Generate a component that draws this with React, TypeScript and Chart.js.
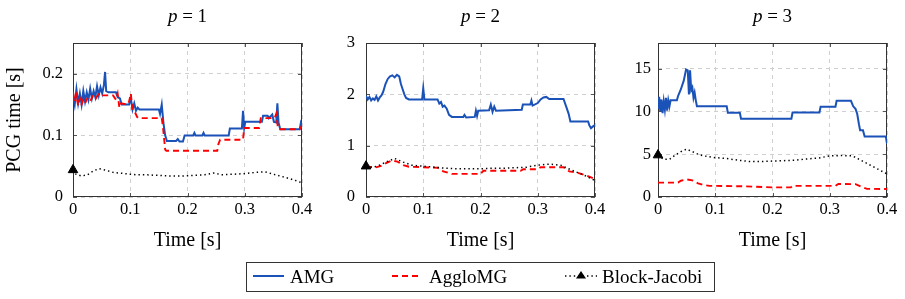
import { useEffect, useRef } from 'react';
import { Chart, registerables } from 'chart.js';

Chart.register(...registerables);

const FONT = '"Liberation Serif", "Times New Roman", serif';
const BLUE = '#1a52b8';
const RED = '#ff0000';
const BLACK = '#000000';

// Shared time axis
const xTicks = [0, 0.1, 0.2, 0.3, 0.4];
const xTickLabels = ['0', '0.1', '0.2', '0.3', '0.4'];

// Panel headings (polynomial degree)
const degrees = ['1', '2', '3'];

// y axes per panel
const yTicksP1 = [0, 0.1, 0.2];
const yTickLabelsP1 = ['0', '0.1', '0.2'];
const yTicksP2 = [0, 1, 2, 3];
const yTickLabelsP2 = ['0', '1', '2', '3'];
const yTicksP3 = [0, 5, 10, 15];
const yTickLabelsP3 = ['0', '5', '10', '15'];
const yMax = [0.25, 3, 18];

// p = 1
const amgP1Time = [0, 0.003, 0.006, 0.009, 0.012, 0.015, 0.018, 0.021, 0.024, 0.027, 0.03, 0.033, 0.036, 0.039, 0.042, 0.045, 0.048, 0.051, 0.054, 0.056, 0.058, 0.062, 0.075, 0.078, 0.082, 0.085, 0.098, 0.101, 0.104, 0.107, 0.11, 0.113, 0.116, 0.15, 0.152, 0.155, 0.158, 0.161, 0.164, 0.18, 0.183, 0.186, 0.192, 0.195, 0.21, 0.212, 0.214, 0.226, 0.228, 0.23, 0.272, 0.274, 0.295, 0.297, 0.299, 0.301, 0.33, 0.332, 0.34, 0.342, 0.348, 0.351, 0.355, 0.357, 0.359, 0.362, 0.396, 0.398, 0.4];
const amgP1Val = [0.165, 0.15, 0.175, 0.152, 0.168, 0.15, 0.172, 0.155, 0.17, 0.158, 0.176, 0.16, 0.172, 0.162, 0.18, 0.165, 0.178, 0.168, 0.182, 0.203, 0.172, 0.17, 0.17, 0.162, 0.16, 0.15, 0.15, 0.16, 0.142, 0.152, 0.14, 0.145, 0.142, 0.142, 0.135, 0.15, 0.12, 0.1, 0.091, 0.091, 0.094, 0.09, 0.09, 0.1, 0.1, 0.104, 0.1, 0.1, 0.104, 0.1, 0.1, 0.111, 0.111, 0.14, 0.112, 0.122, 0.122, 0.132, 0.132, 0.128, 0.134, 0.122, 0.121, 0.152, 0.121, 0.11, 0.11, 0.12, 0.115];
const aggloP1Time = [0, 0.003, 0.006, 0.009, 0.012, 0.015, 0.018, 0.021, 0.025, 0.03, 0.035, 0.04, 0.045, 0.05, 0.07, 0.075, 0.078, 0.081, 0.084, 0.095, 0.098, 0.101, 0.104, 0.108, 0.112, 0.114, 0.155, 0.157, 0.161, 0.163, 0.252, 0.254, 0.257, 0.297, 0.299, 0.325, 0.328, 0.352, 0.355, 0.358, 0.362, 0.396, 0.4];
const aggloP1Val = [0.17, 0.155, 0.165, 0.148, 0.16, 0.15, 0.158, 0.152, 0.16, 0.155, 0.165, 0.16, 0.168, 0.165, 0.165, 0.158, 0.168, 0.145, 0.152, 0.15, 0.155, 0.168, 0.14, 0.138, 0.13, 0.128, 0.128, 0.115, 0.077, 0.075, 0.075, 0.086, 0.093, 0.093, 0.112, 0.112, 0.128, 0.128, 0.135, 0.112, 0.11, 0.11, 0.116];
const bjP1Time = [0, 0.005, 0.015, 0.025, 0.035, 0.045, 0.055, 0.07, 0.09, 0.11, 0.13, 0.15, 0.17, 0.19, 0.21, 0.23, 0.245, 0.26, 0.28, 0.3, 0.32, 0.335, 0.35, 0.37, 0.385, 0.4];
const bjP1Val = [0.044, 0.037, 0.034, 0.036, 0.042, 0.046, 0.044, 0.04, 0.038, 0.036, 0.036, 0.035, 0.034, 0.034, 0.035, 0.036, 0.039, 0.036, 0.037, 0.038, 0.04, 0.041, 0.037, 0.032, 0.028, 0.023];

// p = 2
const amgP2Time = [0, 0.003, 0.006, 0.009, 0.012, 0.015, 0.018, 0.021, 0.024, 0.027, 0.03, 0.034, 0.038, 0.042, 0.046, 0.05, 0.054, 0.058, 0.061, 0.064, 0.067, 0.07, 0.075, 0.098, 0.1, 0.102, 0.125, 0.128, 0.131, 0.134, 0.137, 0.141, 0.145, 0.15, 0.17, 0.172, 0.175, 0.19, 0.192, 0.194, 0.196, 0.215, 0.218, 0.221, 0.224, 0.227, 0.272, 0.274, 0.287, 0.289, 0.291, 0.3, 0.305, 0.31, 0.315, 0.32, 0.345, 0.35, 0.354, 0.357, 0.388, 0.39, 0.393, 0.397, 0.4];
const amgP2Val = [1.97, 1.9, 1.95, 1.88, 1.92, 1.89, 1.96, 1.88, 1.94, 1.98, 2.05, 2.2, 2.3, 2.35, 2.37, 2.33, 2.38, 2.35, 2.2, 2.1, 2.0, 1.93, 1.9, 1.9, 2.12, 1.9, 1.9, 1.82, 1.85, 1.76, 1.78, 1.72, 1.6, 1.56, 1.56, 1.6, 1.55, 1.56, 1.68, 1.58, 1.68, 1.69, 1.8, 1.66, 1.76, 1.68, 1.7, 1.8, 1.8, 1.88, 1.78, 1.83, 1.9, 1.94, 1.95, 1.91, 1.91, 1.75, 1.62, 1.47, 1.47, 1.4, 1.34, 1.38, 1.4];
const aggloP2Time = [0, 0.015, 0.025, 0.035, 0.045, 0.055, 0.065, 0.075, 0.1, 0.125, 0.135, 0.15, 0.2, 0.205, 0.27, 0.275, 0.3, 0.305, 0.345, 0.355, 0.37, 0.385, 0.4];
const aggloP2Val = [0.6, 0.57, 0.6, 0.66, 0.71, 0.69, 0.62, 0.59, 0.58, 0.57, 0.5, 0.45, 0.45, 0.51, 0.51, 0.54, 0.54, 0.58, 0.58, 0.5, 0.47, 0.42, 0.35];
const bjP2Time = [0, 0.01, 0.02, 0.035, 0.05, 0.065, 0.08, 0.1, 0.12, 0.14, 0.16, 0.18, 0.2, 0.22, 0.24, 0.26, 0.28, 0.3, 0.32, 0.34, 0.36, 0.38, 0.4];
const bjP2Val = [0.6, 0.58, 0.6, 0.68, 0.75, 0.68, 0.62, 0.6, 0.58, 0.56, 0.55, 0.55, 0.55, 0.56, 0.56, 0.57, 0.58, 0.62, 0.64, 0.62, 0.52, 0.43, 0.32];

// p = 3
const amgP3Time = [0, 0.002, 0.004, 0.006, 0.008, 0.01, 0.012, 0.014, 0.016, 0.018, 0.02, 0.022, 0.033, 0.035, 0.04, 0.045, 0.049, 0.052, 0.054, 0.056, 0.058, 0.06, 0.062, 0.064, 0.066, 0.068, 0.12, 0.122, 0.143, 0.145, 0.233, 0.235, 0.282, 0.284, 0.31, 0.312, 0.337, 0.341, 0.345, 0.348, 0.351, 0.353, 0.358, 0.361, 0.398, 0.4];
const amgP3Val = [10.3, 11.7, 10.0, 11.4, 9.8, 11.2, 10.2, 11.6, 10.1, 11.3, 10.6, 11.3, 11.3, 11.8, 12.6, 13.6, 14.9, 14.8, 12.0, 14.8, 12.5, 12.8, 11.6, 12.2, 11.3, 10.6, 10.6, 9.85, 9.85, 9.15, 9.15, 9.88, 9.88, 10.55, 10.55, 11.25, 11.25, 10.6, 10.3, 9.7, 8.5, 7.8, 7.8, 7.06, 7.06, 6.2];
const aggloP3Time = [0, 0.035, 0.04, 0.05, 0.06, 0.07, 0.08, 0.09, 0.1, 0.15, 0.2, 0.232, 0.235, 0.31, 0.315, 0.345, 0.355, 0.365, 0.4];
const aggloP3Val = [1.68, 1.68, 1.9, 2.05, 1.95, 1.6, 1.4, 1.3, 1.3, 1.25, 1.12, 1.12, 1.3, 1.3, 1.52, 1.5, 1.2, 0.95, 0.94];
const bjP3Time = [0, 0.01, 0.02, 0.03, 0.04, 0.05, 0.06, 0.07, 0.08, 0.1, 0.12, 0.14, 0.16, 0.18, 0.2, 0.22, 0.24, 0.26, 0.28, 0.3, 0.32, 0.34, 0.36, 0.38, 0.4];
const bjP3Val = [4.9, 4.4, 4.4, 4.9, 5.3, 5.6, 5.3, 5.0, 4.8, 4.6, 4.5, 4.3, 4.15, 4.15, 4.2, 4.25, 4.3, 4.45, 4.55, 4.8, 4.85, 4.8, 4.1, 3.4, 2.7];

const seriesNames = ['AMG', 'AggloMG', 'Block-Jacobi'];

const pts = (t: number[], v: number[]) => t.map((x, i) => ({ x, y: v[i] }));

const panels = [
  {
    amg: pts(amgP1Time, amgP1Val), agglo: pts(aggloP1Time, aggloP1Val), bj: pts(bjP1Time, bjP1Val),
    yTicks: yTicksP1, yLabels: yTickLabelsP1, yMax: yMax[0], plotLeft: 73, yPad: 10, yTitle: 'PCG time [s]',
  },
  {
    amg: pts(amgP2Time, amgP2Val), agglo: pts(aggloP2Time, aggloP2Val), bj: pts(bjP2Time, bjP2Val),
    yTicks: yTicksP2, yLabels: yTickLabelsP2, yMax: yMax[1], plotLeft: 366, yPad: 11, yTitle: '',
  },
  {
    amg: pts(amgP3Time, amgP3Val), agglo: pts(aggloP3Time, aggloP3Val), bj: pts(bjP3Time, bjP3Val),
    yTicks: yTicksP3, yLabels: yTickLabelsP3, yMax: yMax[2], plotLeft: 658, yPad: 7, yTitle: '',
  },
];

const PLOT_W = 229;
const AXIS_W = 72;
const RIGHT_PAD = 14;
const CANVAS_W = AXIS_W + PLOT_W + RIGHT_PAD;
const CANVAS_H = 299;
const TICK_SIZE = 16.5;

// Heading "p = n" above each plot, with an italic p
const headingPlugin = (degree: string) => ({
  id: 'heading',
  afterDraw(chart: any) {
    const { ctx, chartArea } = chart;
    const italic = `italic 19px ${FONT}`;
    const roman = `19px ${FONT}`;
    ctx.save();
    ctx.fillStyle = '#000';
    ctx.textBaseline = 'middle';
    ctx.font = italic;
    const wp = ctx.measureText('p').width;
    ctx.font = roman;
    const rest = ' = ' + degree;
    const wr = ctx.measureText(rest).width;
    const x0 = (chartArea.left + chartArea.right) / 2 - (wp + wr) / 2;
    const y = 17;
    ctx.font = italic;
    ctx.fillText('p', x0, y);
    ctx.font = roman;
    ctx.fillText(rest, x0 + wp, y);
    ctx.restore();
  },
});

// Plot frame with small inward tick marks
const framePlugin = {
  id: 'frame',
  beforeDatasetsDraw(chart: any) {
    const { ctx, chartArea, scales } = chart;
    const { left, right, top, bottom } = chartArea;
    ctx.save();
    ctx.strokeStyle = '#555';
    ctx.lineWidth = 1;
    const L = 4;
    ctx.beginPath();
    scales.x.ticks.forEach((t: any) => {
      const px = Math.round(scales.x.getPixelForValue(t.value)) + 0.5;
      ctx.moveTo(px, bottom);
      ctx.lineTo(px, bottom - L);
      ctx.moveTo(px, top);
      ctx.lineTo(px, top + L);
    });
    scales.y.ticks.forEach((t: any) => {
      const py = Math.round(scales.y.getPixelForValue(t.value)) + 0.5;
      ctx.moveTo(left, py);
      ctx.lineTo(left + L, py);
      ctx.moveTo(right, py);
      ctx.lineTo(right - L, py);
    });
    ctx.stroke();
    ctx.strokeStyle = '#333';
    ctx.strokeRect(Math.round(left) + 0.5, Math.round(top) + 0.5, Math.round(right - left) - 1, Math.round(bottom - top) - 1);
    ctx.restore();
  },
};

function Panel({ index }: { index: number }) {
  const ref = useRef<HTMLCanvasElement | null>(null);
  const p = panels[index];

  useEffect(() => {
    if (!ref.current) return;
    const chart = new Chart(ref.current, {
      type: 'line',
      data: {
        datasets: [
          {
            label: seriesNames[0], data: p.amg, borderColor: BLUE, backgroundColor: BLUE,
            borderWidth: 2, pointRadius: 0, tension: 0, order: 3,
          },
          {
            label: seriesNames[1], data: p.agglo, borderColor: RED, backgroundColor: RED,
            borderWidth: 1.9, borderDash: [6, 4], pointRadius: 0, tension: 0, order: 2,
          },
          {
            label: seriesNames[2], data: p.bj, borderColor: BLACK, backgroundColor: BLACK,
            borderWidth: 1.5, borderDash: [1.4, 3], tension: 0, order: 1, clip: false,
            pointStyle: 'triangle', pointBackgroundColor: BLACK, pointBorderColor: BLACK, pointBorderWidth: 1,
            pointRadius: (c: any) => (c.dataIndex === 0 ? 5.5 : 0),
          },
        ],
      },
      options: {
        responsive: false,
        animation: false,
        devicePixelRatio: 1,
        layout: { padding: { top: 43, right: RIGHT_PAD, bottom: 42, left: 0 } },
        plugins: { legend: { display: false }, tooltip: { enabled: false }, title: { display: false } },
        scales: {
          x: {
            type: 'linear', min: 0, max: 0.4,
            afterBuildTicks: (s: any) => { s.ticks = xTicks.map((v) => ({ value: v })); },
            afterFit: (s: any) => { s.height = 60; },
            ticks: {
              color: '#000', font: { family: FONT, size: TICK_SIZE }, padding: 3, maxRotation: 0, autoSkip: false,
              callback: (v: any) => xTickLabels[xTicks.indexOf(Number(v))] ?? '',
            },
            grid: { color: '#cfcfcf', drawTicks: false, lineWidth: 1 },
            border: { display: false, dash: [4, 4] },
            title: { display: true, text: 'Time [s]', color: '#000', font: { family: FONT, size: 20 }, padding: { top: 0, bottom: 4 } },
          },
          y: {
            type: 'linear', min: 0, max: p.yMax,
            afterBuildTicks: (s: any) => { s.ticks = p.yTicks.map((v) => ({ value: v })); },
            afterFit: (s: any) => { s.width = AXIS_W; },
            ticks: {
              color: '#000', font: { family: FONT, size: TICK_SIZE }, padding: p.yPad, autoSkip: false,
              callback: (v: any) => p.yLabels[p.yTicks.indexOf(Number(v))] ?? '',
            },
            grid: { color: '#cfcfcf', drawTicks: false, lineWidth: 1 },
            border: { display: false, dash: [4, 4] },
            title: { display: p.yTitle !== '', text: p.yTitle, color: '#000', font: { family: FONT, size: 20 }, padding: { top: 2, bottom: 0 } },
          },
        },
      },
      plugins: [framePlugin, headingPlugin(degrees[index])],
    } as any);
    return () => chart.destroy();
  }, [index]);

  return (
    <canvas
      ref={ref}
      width={CANVAS_W}
      height={CANVAS_H}
      style={{ position: 'absolute', left: p.plotLeft - AXIS_W, top: 0, width: CANVAS_W, height: CANVAS_H }}
    />
  );
}

function LegendSample({ kind }: { kind: number }) {
  if (kind === 0) {
    return (
      <svg width={31} height={10} style={{ position: 'absolute', left: 6, top: 8 }}>
        <line x1={0} y1={5} x2={31} y2={5} stroke={BLUE} strokeWidth={2} />
      </svg>
    );
  }
  if (kind === 1) {
    return (
      <svg width={30} height={10} style={{ position: 'absolute', left: 145, top: 8 }}>
        <line x1={0} y1={5} x2={30} y2={5} stroke={RED} strokeWidth={1.9} strokeDasharray="6 4" />
      </svg>
    );
  }
  return (
    <svg width={32} height={12} style={{ position: 'absolute', left: 318, top: 6 }}>
      <line x1={0} y1={7} x2={32} y2={7} stroke={BLACK} strokeWidth={1.5} strokeDasharray="1.4 3" />
      <polygon points="16,2 21,9.5 11,9.5" fill={BLACK} />
    </svg>
  );
}

export default function App() {
  const textLefts = [43, 182, 355];
  return (
    <div style={{ position: 'absolute', left: 0, top: 0, width: 905, height: 299, background: '#fff' }}>
      {[0, 1, 2].map((i) => <Panel key={i} index={i} />)}
      <div
        style={{
          position: 'absolute', left: 246, top: 262, width: 467, height: 28,
          border: '1px solid #333', fontFamily: FONT, fontSize: 19, color: '#000',
        }}
      >
        {seriesNames.map((name, i) => (
          <div key={name}>
            <LegendSample kind={i} />
            <span style={{ position: 'absolute', left: textLefts[i], top: 0, lineHeight: '28px', whiteSpace: 'nowrap' }}>{name}</span>
          </div>
        ))}
      </div>
    </div>
  );
}
